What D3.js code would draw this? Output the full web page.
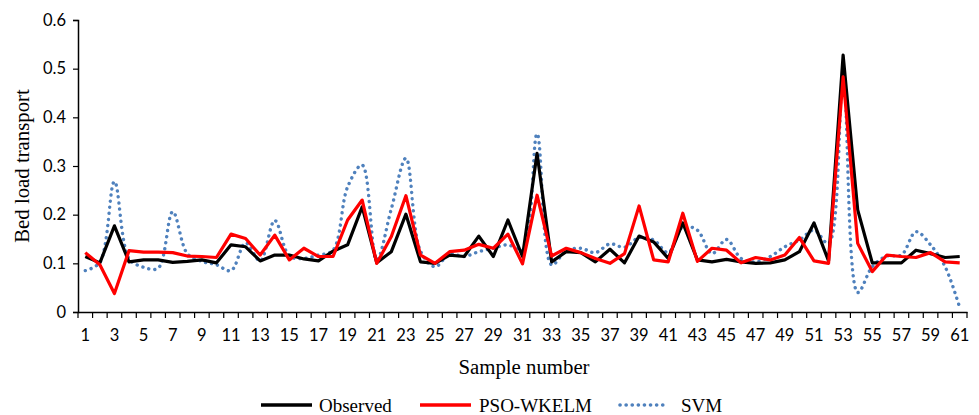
<!DOCTYPE html>
<html><head><meta charset="utf-8">
<script src="https://cdn.jsdelivr.net/npm/d3@7"></script>
<style>body{margin:0;background:#fff}svg{display:block}</style>
</head><body>
<script>
const samples = d3.range(1, 62);
const observed = [0.114,0.101,0.177,0.103,0.107,0.107,0.102,0.104,0.107,0.101,
  0.138,0.134,0.105,0.117,0.117,0.109,0.105,0.125,0.138,0.216,
  0.101,0.124,0.201,0.103,0.100,0.117,0.114,0.156,0.114,0.189,
  0.114,0.326,0.103,0.124,0.122,0.103,0.129,0.101,0.156,0.144,
  0.110,0.183,0.107,0.103,0.108,0.103,0.100,0.101,0.107,0.124,
  0.183,0.105,0.528,0.210,0.101,0.101,0.101,0.127,0.120,0.112,0.114];
const psoWkelm = [0.122,0.097,0.038,0.126,0.123,0.123,0.122,0.115,0.114,0.112,
  0.160,0.151,0.117,0.158,0.107,0.131,0.114,0.114,0.189,0.230,
  0.100,0.155,0.239,0.117,0.100,0.124,0.127,0.139,0.131,0.160,
  0.099,0.240,0.115,0.131,0.122,0.110,0.100,0.120,0.218,0.107,
  0.103,0.203,0.104,0.131,0.127,0.101,0.112,0.107,0.117,0.153,
  0.105,0.100,0.483,0.141,0.083,0.117,0.114,0.112,0.122,0.103,0.101];
const svm = [0.085,0.102,0.268,0.110,0.092,0.090,0.206,0.120,0.104,0.097,
  0.085,0.142,0.105,0.188,0.115,0.110,0.117,0.127,0.257,0.302,
  0.107,0.212,0.316,0.125,0.093,0.119,0.114,0.124,0.131,0.138,
  0.127,0.366,0.097,0.126,0.131,0.122,0.140,0.133,0.153,0.148,
  0.122,0.175,0.168,0.120,0.149,0.110,0.103,0.114,0.134,0.148,
  0.168,0.141,0.477,0.040,0.093,0.115,0.117,0.165,0.138,0.093,0.009];
const yTicks = [0,0.1,0.2,0.3,0.4,0.5,0.6];
const seriesNames = ["Observed","PSO-WKELM","SVM"];

const SERIF = "'Liberation Serif', 'Times New Roman', serif";
const SANS = "Lato, 'Open Sans', 'Liberation Sans', sans-serif";
const W = 979, H = 415;
const m = {left:78, right:12, top:20, bottom:103};
const svg = d3.select("body").append("svg").attr("width",W).attr("height",H);

const x = d3.scaleBand().domain(samples).range([m.left, W - m.right]);
const y = d3.scaleLinear().domain([0,0.6]).range([H - m.bottom, m.top]);
const cx = d => x(d) + x.bandwidth()/2;

function setFont(sel, fam, size){ sel.style("font-family",fam).style("font-size",size+"px").attr("fill","#000"); }

// Y axis
const yAxis = d3.axisLeft(y).tickValues(yTicks).tickSize(5).tickPadding(7).tickFormat(d => d3.format("")(d));
const gy = svg.append("g").attr("transform",`translate(${m.left},0)`).call(yAxis).attr("font-family",null);
gy.select(".domain").attr("stroke","#000").attr("stroke-width",1.5);
gy.selectAll(".tick line").attr("stroke","#000").attr("stroke-width",1.2);
setFont(gy.selectAll("text"),SANS,16.5);

// X axis
const xAxis = d3.axisBottom(x).tickSize(0).tickFormat(d => d % 2 === 1 ? d : "").tickPadding(17);
const gx = svg.append("g").attr("transform",`translate(0,${y(0)})`).call(xAxis).attr("font-family",null);
gx.select(".domain").attr("stroke","#000").attr("stroke-width",1.5);
setFont(gx.selectAll("text"),SANS,16.5);
const bounds = samples.map(d => x(d)).concat([x(samples[samples.length-1]) + x.bandwidth()]);
gx.selectAll("line.bt").data(bounds).enter().append("line").attr("class","bt")
  .attr("x1",d=>d).attr("x2",d=>d).attr("y1",0).attr("y2",6)
  .attr("stroke","#000").attr("stroke-width",1.2);

// axis titles
setFont(svg.append("text").attr("x", 524).attr("y", 374)
  .attr("text-anchor","middle").text("Sample number"),SERIF,20.8);
setFont(svg.append("text").attr("transform",`translate(29,${(m.top + H - m.bottom)/2}) rotate(-90)`)
  .attr("text-anchor","middle").text("Bed load transport"),SERIF,20.8);

// lines
const lineStraight = d3.line().x((d,i)=>cx(samples[i])).y(d=>y(d));
const lineSmooth = d3.line().x((d,i)=>cx(samples[i])).y(d=>y(d)).curve(d3.curveCatmullRom.alpha(0.5));

svg.append("path").datum(svm).attr("d",lineSmooth).attr("fill","none")
  .attr("stroke","#4F81BD").attr("stroke-width",3.4).attr("stroke-linecap","round")
  .attr("stroke-dasharray","0.1 6");
svg.append("path").datum(observed).attr("d",lineStraight).attr("fill","none")
  .attr("stroke","#000").attr("stroke-width",3.2).attr("stroke-linejoin","round");
svg.append("path").datum(psoWkelm).attr("d",lineStraight).attr("fill","none")
  .attr("stroke","#FF0000").attr("stroke-width",3.2).attr("stroke-linejoin","round");

// legend
const leg = [
  {name:seriesNames[0], color:"#000", x1:261, x2:312, tx:319, dash:null},
  {name:seriesNames[1], color:"#FF0000", x1:420, x2:471, tx:479, dash:null},
  {name:seriesNames[2], color:"#4F81BD", x1:620, x2:666, tx:681, dash:"0.1 6"}
];
const ly = 405;
leg.forEach(l => {
  const ln = svg.append("line").attr("x1",l.x1).attr("x2",l.x2).attr("y1",ly).attr("y2",ly)
    .attr("stroke",l.color).attr("stroke-width",3.6).attr("stroke-linecap", l.dash ? "round" : "butt");
  if (l.dash) ln.attr("stroke-dasharray", l.dash);
  setFont(svg.append("text").attr("x",l.tx).attr("y",ly+6.5).text(l.name),SERIF,19);
});
</script>
</body></html>
